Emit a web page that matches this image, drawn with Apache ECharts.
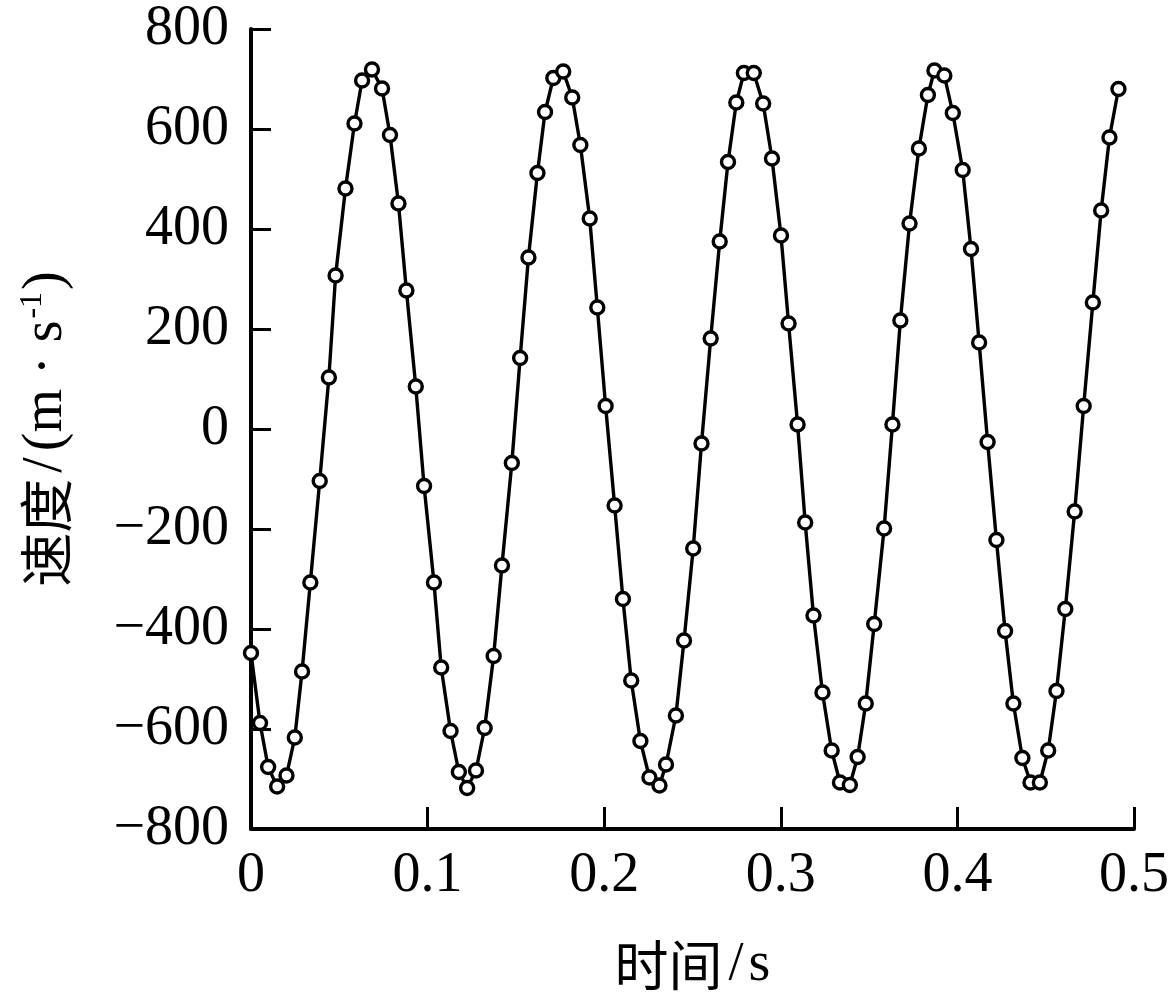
<!DOCTYPE html>
<html>
<head>
<meta charset="utf-8">
<script src="https://cdn.jsdelivr.net/npm/echarts@6/dist/echarts.min.js"></script>
<style>
html,body{margin:0;padding:0;background:#fff;}
#chart{width:1172px;height:999px;}
</style>
</head>
<body>
<div id="chart"></div>
<script>
// time (s) of each sample
var times = [
  0.0000, 0.0051, 0.0097, 0.0148, 0.0201, 0.0248, 0.0289, 0.0336, 0.0389, 0.0441,
  0.0479, 0.0535, 0.0586, 0.0629, 0.0685, 0.0742, 0.0787, 0.0835, 0.0880, 0.0933,
  0.0980, 0.1036, 0.1077, 0.1130, 0.1177, 0.1224, 0.1274, 0.1323, 0.1374, 0.1421,
  0.1477, 0.1524, 0.1571, 0.1622, 0.1665, 0.1712, 0.1768, 0.1819, 0.1865, 0.1918,
  0.1961, 0.2008, 0.2059, 0.2106, 0.2153, 0.2205, 0.2256, 0.2313, 0.2350, 0.2406,
  0.2452, 0.2504, 0.2551, 0.2603, 0.2654, 0.2701, 0.2748, 0.2791, 0.2847, 0.2900,
  0.2950, 0.3001, 0.3044, 0.3095, 0.3138, 0.3185, 0.3236, 0.3288, 0.3335, 0.3391,
  0.3435, 0.3481, 0.3529, 0.3585, 0.3632, 0.3677, 0.3729, 0.3782, 0.3833, 0.3870,
  0.3926, 0.3974, 0.4030, 0.4077, 0.4123, 0.4171, 0.4221, 0.4270, 0.4317, 0.4368,
  0.4414, 0.4467, 0.4514, 0.4561, 0.4611, 0.4664, 0.4715, 0.4767, 0.4814, 0.4861,
  0.4912
];
// velocity (m/s) of each sample
var speeds = [
  -448, -588, -676, -715, -693, -617, -485, -307, -104, 103,
   307,  481,  611,  697,  719,  681,  588,  451,  277,  85,
  -114, -307, -477, -604, -686, -718, -683, -598, -454, -273,
   -68,  142,  343,  512,  634,  702,  715,  663,  568,  421,
   243,   46, -153, -340, -503, -624, -697, -713, -671, -573,
  -423, -239,  -29,  181,  375,  534,  653,  712,  712,  651,
   541,  387,  211,    9, -187, -373, -527, -643, -707, -712,
  -656, -549, -390, -199,    9,  217,  411,  561,  668,  717,
   707,  632,  518,  360,  173,  -26, -222, -404, -549, -658,
  -707, -707, -643, -524, -360, -165,   46,  253,  437,  583,
   680
];
var xTicks = [0, 0.1, 0.2, 0.3, 0.4, 0.5];
var yTicks = [-800, -600, -400, -200, 0, 200, 400, 600, 800];
var xTitleCJK = '时间', xTitleUnit = 's';
var yTitleCJK = '速度', yTitleUnit = '(m · s', yTitleSup = '-1';

var pts = times.map(function (t, i) { return [t, speeds[i]]; });
var serif = "'Liberation Serif','Noto Sans CJK SC',serif";
var cjk = "'Noto Sans CJK SC',sans-serif";

var chart = echarts.init(document.getElementById('chart'), null, {renderer: 'canvas'});
chart.setOption({
  animation: false,
  backgroundColor: '#fff',
  grid: {left: 251, right: 31, top: 29, bottom: 170, containLabel: false},
  xAxis: {
    type: 'value',
    min: xTicks[0], max: xTicks[xTicks.length - 1], interval: 0.1,
    axisLine: {show: true, onZero: false, lineStyle: {color: '#000', width: 4}},
    axisTick: {show: true, inside: true, length: 22, lineStyle: {color: '#000', width: 3}},
    splitLine: {show: false},
    axisLabel: {
      color: '#000', fontFamily: serif, fontSize: 56, margin: 19,
      formatter: function (v) { return String(+v.toFixed(1)); }
    },
    name: '{c|' + xTitleCJK + '}{sl|/}{a|' + xTitleUnit + '}',
    nameLocation: 'middle', nameGap: 106,
    nameTextStyle: {
      color: '#000', fontSize: 54,
      rich: {
        c: {color: '#000', fontFamily: cjk, fontSize: 54, lineHeight: 60},
        sl: {color: '#000', fontFamily: serif, fontSize: 54, lineHeight: 60, padding: [0, 5, 0, 6]},
        a: {color: '#000', fontFamily: serif, fontSize: 56, lineHeight: 60}
      }
    }
  },
  yAxis: {
    type: 'value',
    min: yTicks[0], max: yTicks[yTicks.length - 1], interval: 200,
    axisLine: {show: true, onZero: false, lineStyle: {color: '#000', width: 4}},
    axisTick: {show: true, inside: true, length: 20, lineStyle: {color: '#000', width: 3}},
    splitLine: {show: false},
    axisLabel: {
      color: '#000', fontFamily: serif, fontSize: 56, margin: 22,
      formatter: function (v) { return v < 0 ? '\u2212' + Math.abs(v) : String(v); }
    },
    name: '{c|' + yTitleCJK + '}{sl|/}{a|' + yTitleUnit + '}{s|' + yTitleSup + '}{a|)}',
    nameLocation: 'middle', nameRotate: 90, nameGap: 176,
    nameTextStyle: {
      color: '#000', fontSize: 54,
      rich: {
        c: {color: '#000', fontFamily: cjk, fontSize: 54, lineHeight: 58},
        sl: {color: '#000', fontFamily: serif, fontSize: 56, lineHeight: 58, padding: [0, 6, 0, 6]},
        a: {color: '#000', fontFamily: serif, fontSize: 56, lineHeight: 58},
        s: {color: '#000', fontFamily: serif, fontSize: 32, verticalAlign: 'top', lineHeight: 58, padding: [0, 2, 22, 2]}
      }
    }
  },
  series: [{
    type: 'line',
    data: pts,
    smooth: false,
    symbol: 'circle',
    symbolSize: 13,
    showAllSymbol: true,
    lineStyle: {color: '#000', width: 3.4},
    itemStyle: {color: '#fff', borderColor: '#000', borderWidth: 3.4},
    z: 3
  }]
});
</script>
</body>
</html>
